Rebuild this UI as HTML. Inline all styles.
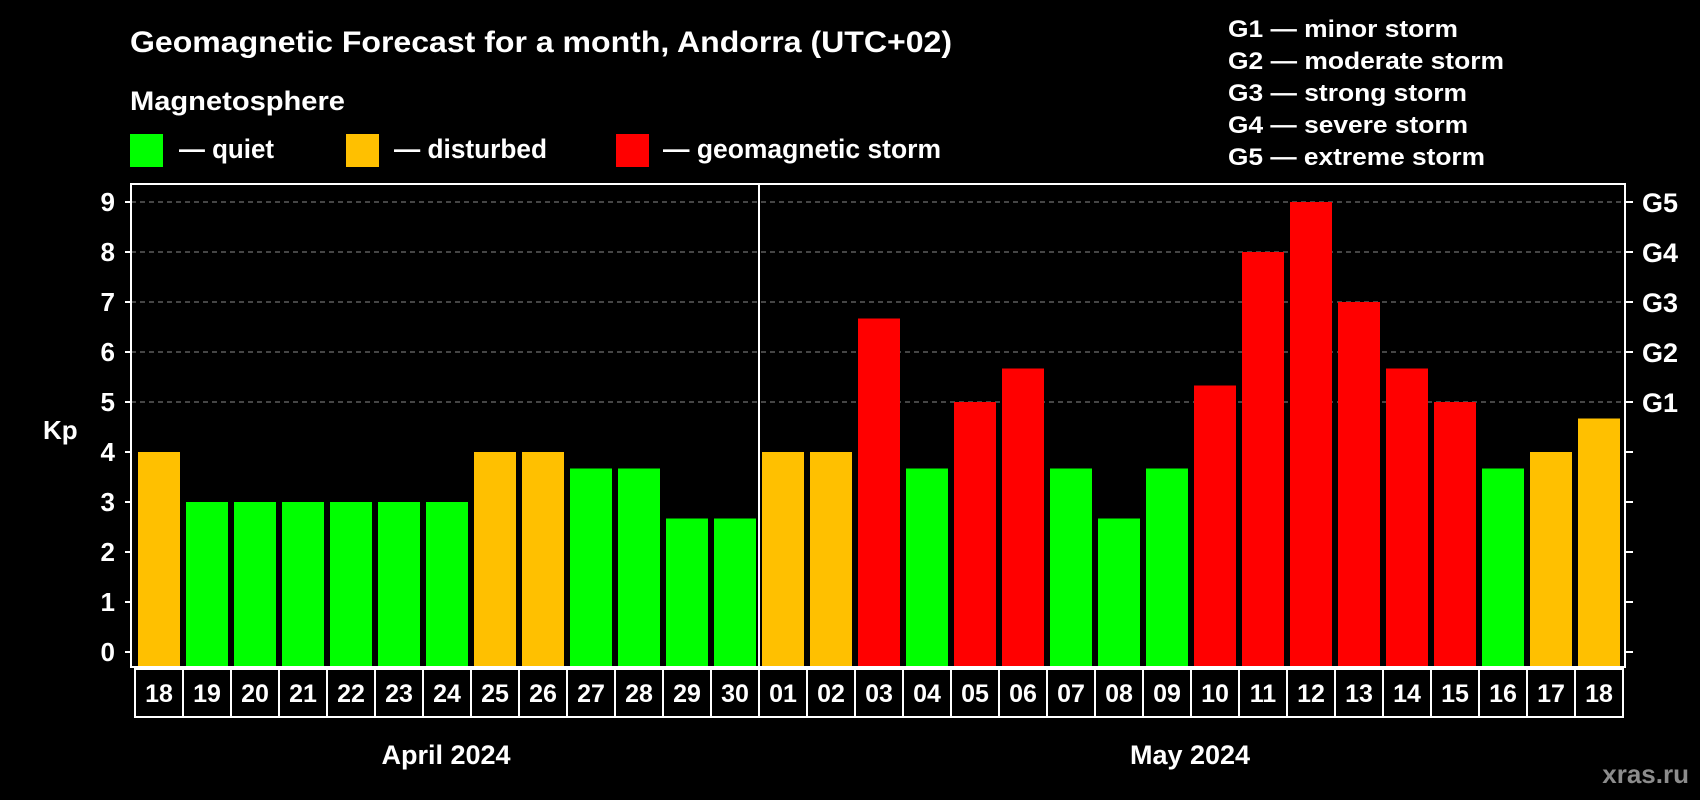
<!DOCTYPE html>
<html><head><meta charset="utf-8"><style>
html,body{margin:0;padding:0;background:#000;}
svg{display:block;font-family:"Liberation Sans",sans-serif;font-weight:bold;}
</style></head><body>
<svg id="chart" width="1700" height="800" viewBox="0 0 1700 800">
<rect x="0" y="0" width="1700" height="800" fill="#000"/>
<text x="130" y="52" font-size="30" fill="#fff" textLength="822" lengthAdjust="spacingAndGlyphs">Geomagnetic Forecast for a month, Andorra (UTC+02)</text>
<text x="130" y="110" font-size="27" fill="#fff" textLength="215" lengthAdjust="spacingAndGlyphs">Magnetosphere</text>
<rect x="130" y="134" width="33" height="33" fill="#00ff00"/>
<text x="179" y="158" font-size="27" fill="#fff" textLength="95" lengthAdjust="spacingAndGlyphs">— quiet</text>
<rect x="346" y="134" width="33" height="33" fill="#ffc000"/>
<text x="394" y="158" font-size="27" fill="#fff" textLength="153" lengthAdjust="spacingAndGlyphs">— disturbed</text>
<rect x="616" y="134" width="33" height="33" fill="#ff0000"/>
<text x="663" y="158" font-size="27" fill="#fff" textLength="278" lengthAdjust="spacingAndGlyphs">— geomagnetic storm</text>
<g font-size="24" fill="#fff">
<text x="1228" y="37" textLength="230" lengthAdjust="spacingAndGlyphs">G1 — minor storm</text>
<text x="1228" y="69" textLength="276" lengthAdjust="spacingAndGlyphs">G2 — moderate storm</text>
<text x="1228" y="101" textLength="239" lengthAdjust="spacingAndGlyphs">G3 — strong storm</text>
<text x="1228" y="133" textLength="240" lengthAdjust="spacingAndGlyphs">G4 — severe storm</text>
<text x="1228" y="165" textLength="257" lengthAdjust="spacingAndGlyphs">G5 — extreme storm</text>
</g>
<text x="43" y="439" font-size="26" fill="#fff">Kp</text>
<g id="grid"></g>
<g id="bars"></g>
<g id="axes"></g>
<text x="446" y="764" font-size="27" fill="#fff" text-anchor="middle">April 2024</text>
<text x="1190" y="764" font-size="27" fill="#fff" text-anchor="middle">May 2024</text>
<text x="1689" y="783" font-size="26" fill="#8c8c8c" text-anchor="end">xras.ru</text>
</svg>
<script>
const days = ["18","19","20","21","22","23","24","25","26","27","28","29","30","01","02","03","04","05","06","07","08","09","10","11","12","13","14","15","16","17","18"];
const kpValues = [4,3,3,3,3,3,3,4,4,3.67,3.67,2.67,2.67,4,4,6.67,3.67,5,5.67,3.67,2.67,3.67,5.33,8,9,7,5.67,5,3.67,4,4.67];
const yTicks = [0,1,2,3,4,5,6,7,8,9];
const gLabels = ["G1","G2","G3","G4","G5"];
const gLevels = [5,6,7,8,9];

const NS = "http://www.w3.org/2000/svg";
const plotL = 131, plotR = 1625, plotT = 184, plotB = 667;
const y0 = 652, unit = 50;
const slot0 = 135, pitch = 48;
const rowH = 48;
function yScale(v){ return y0 - v*unit; }
function xSlot(i){ return slot0 + i*pitch; }
function mk(tag, attrs, parent){ const e=document.createElementNS(NS,tag); for(const k in attrs) e.setAttribute(k,attrs[k]); parent.appendChild(e); return e; }
function colorFor(v){ return v>=5 ? "#ff0000" : (v>=4 ? "#ffc000" : "#00ff00"); }

const grid = document.getElementById("grid");
gLevels.forEach(function(v){
  const l = mk("line",{x1:plotL,x2:plotR,y1:yScale(v),y2:yScale(v),stroke:"#8a8a8a","stroke-width":1,"stroke-dasharray":"5,4"},grid);
  
  
});

const bars = document.getElementById("bars");
kpValues.forEach(function(v,i){
  const top = yScale(v);
  const r = mk("rect",{x:xSlot(i)+3,y:top,width:42,height:plotB-top,fill:colorFor(v)},bars);
  
  
});

const axes = document.getElementById("axes");
const frame = mk("rect",{x:plotL,y:plotT,width:plotR-plotL,height:plotB-plotT,fill:"none",stroke:"#fff","stroke-width":2},axes);


const div = mk("line",{x1:xSlot(13),x2:xSlot(13),y1:plotT,y2:plotB+2+rowH,stroke:"#fff","stroke-width":2},axes);


yTicks.forEach(function(v){
  const y = yScale(v);
  const t1 = mk("line",{x1:plotL-6,x2:plotL,y1:y,y2:y,stroke:"#fff","stroke-width":2},axes);
  
  
  const t2 = mk("line",{x1:plotR,x2:plotR+8,y1:y,y2:y,stroke:"#fff","stroke-width":2},axes);
  
  
  const tx = mk("text",{x:115,y:y+9,"font-size":26,fill:"#fff","text-anchor":"end"},axes);
  tx.textContent = String(v);
  
  
});
gLabels.forEach(function(g,i){
  const tx = mk("text",{x:1642,y:yScale(gLevels[i])+10,"font-size":27,fill:"#fff"},axes);
  tx.textContent = g;
  
  
});
days.forEach(function(d,i){
  const c = mk("rect",{x:xSlot(i),y:plotB+2,width:pitch,height:rowH,fill:"#000",stroke:"#fff","stroke-width":2},axes);
  
  
  const tx = mk("text",{x:xSlot(i)+pitch/2,y:plotB+2+rowH/2+9,"font-size":25,fill:"#fff","text-anchor":"middle"},axes);
  tx.textContent = d;
  
  
});
</script>
</body></html>
